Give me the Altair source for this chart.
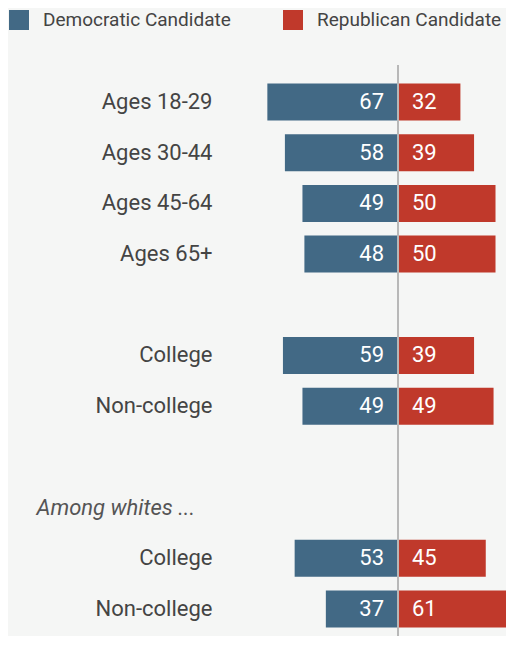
import altair as alt
import pandas as pd

labels = ["Ages 18-29", "Ages 30-44", "Ages 45-64", "Ages 65+", "",
          "College", "Non-college", "", "Among whites ...", "College", "Non-college"]
dem = [67, 58, 49, 48, None, 59, 49, None, None, 53, 37]
rep = [32, 39, 50, 50, None, 39, 49, None, None, 45, 61]
series = ["Democratic Candidate", "Republican Candidate"]
colors = ["#426985", "#c0392b"]

rows = []
for i, (d, r) in enumerate(zip(dem, rep)):
    if d is not None:
        rows.append({"row": i, "party": series[0], "start": -d, "end": 0, "value": d})
    if r is not None:
        rows.append({"row": i, "party": series[1], "start": 0, "end": r, "value": r})
df = pd.DataFrame(rows)

FONT = "Roboto"
label_expr = "[" + ",".join("'" + s + "'" for s in labels) + "][datum.value]"
header_test = f"datum.value == {labels.index('Among whites ...')}"

yenc = alt.Y("row:O",
             scale=alt.Scale(domain=list(range(len(labels))), paddingInner=0.27,
                             paddingOuter=0.266, align=0.685),
             axis=alt.Axis(title=None, domain=False, ticks=False, labelExpr=label_expr,
                           labelFont=FONT, labelFontSize=22,
                           labelColor={"condition": {"test": header_test, "value": "#555555"}, "value": "#444444"},
                           labelAlign={"condition": {"test": header_test, "value": "left"}, "value": "right"},
                           labelPadding={"condition": {"test": header_test, "value": 184}, "value": 8},
                           labelFontStyle={"condition": {"test": header_test, "value": "italic"}, "value": "normal"},
                           labelLimit=0))
xscale = alt.Scale(domain=[-91.28, 55.38], nice=False, zero=False)

base = alt.Chart(df)
bars = base.mark_bar().encode(
    x=alt.X("start:Q", scale=xscale, axis=None),
    x2="end:Q",
    y=yenc,
    color=alt.Color("party:N", scale=alt.Scale(domain=series, range=colors),
                    legend=alt.Legend(title=None, orient="none", legendX=-211, legendY=-55,
                                      direction="horizontal", symbolType="square",
                                      symbolSize=400, symbolStrokeWidth=0, symbolOpacity=1,
                                      labelFont=FONT, labelFontSize=19, labelColor="#444444",
                                      labelLimit=0, labelOffset=14, columnPadding=52,
                                      padding=0)),
)
dem_text = base.transform_filter(alt.datum.party == series[0]).mark_text(
    align="right", baseline="middle", dx=-14, color="white", font=FONT, fontSize=22
).encode(x=alt.X("end:Q", scale=xscale), y=yenc, text="value:Q")
rep_text = base.transform_filter(alt.datum.party == series[1]).mark_text(
    align="left", baseline="middle", dx=14, color="white", font=FONT, fontSize=22
).encode(x=alt.X("start:Q", scale=xscale), y=yenc, text="value:Q")
rule = alt.Chart(pd.DataFrame({"zero": [0]})).mark_rule(color="#b8b8b8", strokeWidth=2).encode(
    x=alt.X("zero:Q", scale=xscale))

chart = alt.layer(bars, dem_text, rep_text, rule).properties(
    width=286, height=571,
    autosize=alt.AutoSizeParams(type="none"),
    padding={"left": 212, "top": 57, "right": 0, "bottom": 0},
    background="#f5f6f5",
).configure_view(stroke=None)

chart.save("out.html", embed_options={"renderer": "svg", "actions": False})
